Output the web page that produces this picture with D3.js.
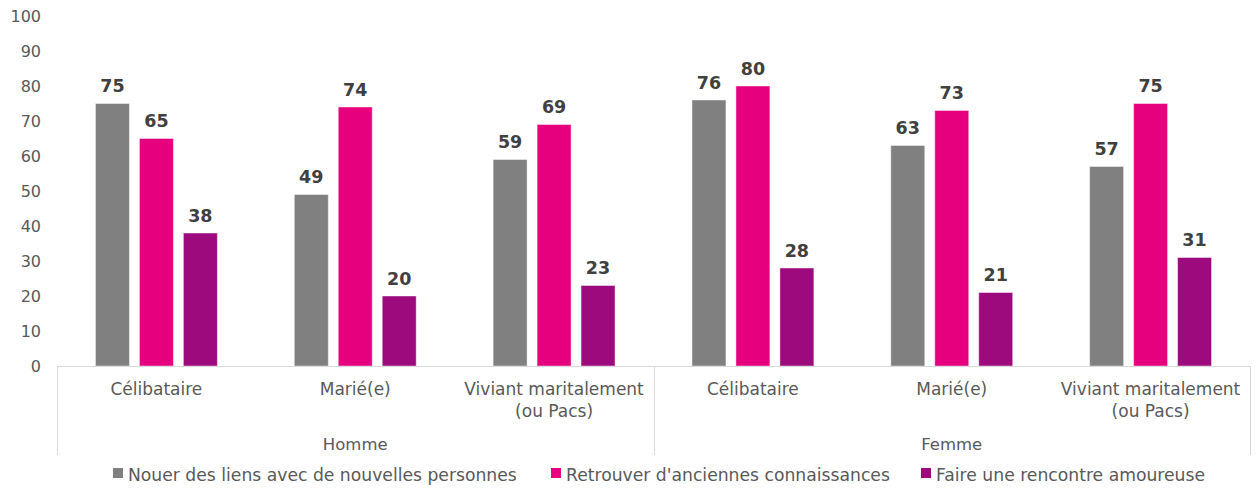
<!DOCTYPE html>
<html>
<head>
<meta charset="utf-8">
<script src="https://cdn.jsdelivr.net/npm/d3@7"></script>
<style>
  html, body { margin: 0; padding: 0; background: #fff; }
  svg { display: block; }
  svg text { font-family: "DejaVu Sans"; }
</style>
</head>
<body>
<svg id="chart" width="1258" height="491"></svg>
<script>
// Data
const groups = ["Homme", "Femme"];
const statuses = ["Célibataire", "Marié(e)", "Viviant maritalement\n(ou Pacs)"];
const seriesNames = [
  "Nouer des liens avec de nouvelles personnes",
  "Retrouver d'anciennes connaissances",
  "Faire une rencontre amoureuse"
];
// values per series, ordered Homme (3 statuses) then Femme (3 statuses)
const nouerLiens = [75, 49, 59, 76, 63, 57];
const retrouver = [65, 74, 69, 80, 73, 75];
const rencontre = [38, 20, 23, 28, 21, 31];
const yTicks = [0, 10, 20, 30, 40, 50, 60, 70, 80, 90, 100];
const colors = ["#808080", "#E6007E", "#9C0A7E"];

const FONT = "DejaVu Sans";
const TEXT = "#595959";
const seriesValues = [nouerLiens, retrouver, rencontre];
const categories = [];
groups.forEach(g => statuses.forEach(s => categories.push({ group: g, status: s, key: g + "|" + s })));

const svg = d3.select("#chart");
const plotLeft = 57, plotRight = 1250, plotTop = 16, plotBase = 366;

const y = d3.scaleLinear().domain([0, 100]).range([plotBase, plotTop]);
const x0 = d3.scaleBand().domain(categories.map(c => c.key)).range([plotLeft, plotRight]).paddingInner(0).paddingOuter(0);
const x1 = d3.scaleBand().domain(d3.range(seriesNames.length)).range([0, x0.bandwidth()])
  .paddingInner(0.227).paddingOuter(0.875);

// Y axis labels
const yAxis = d3.axisLeft(y).tickValues(yTicks).tickSize(0).tickPadding(16);
const yg = svg.append("g").attr("transform", `translate(${plotLeft},0)`).call(yAxis)
  .attr("font-family", FONT);
yg.select(".domain").remove();
yg.selectAll("text").attr("fill", TEXT).attr("font-family", FONT).style("font-size", "16px");

// Bars with value labels
categories.forEach((c, ci) => {
  const g = svg.append("g").attr("transform", `translate(${x0(c.key)},0)`);
  seriesValues.forEach((vals, si) => {
    const v = vals[ci];
    g.append("rect")
      .attr("x", x1(si))
      .attr("y", y(v))
      .attr("width", x1.bandwidth())
      .attr("height", plotBase - y(v))
      .attr("fill", colors[si])
      .attr("stroke", "rgba(255,255,255,0.45)")
      .attr("stroke-width", 1);
    g.append("text")
      .attr("x", x1(si) + x1.bandwidth() / 2)
      .attr("y", y(v) - 11.5)
      .attr("text-anchor", "middle")
      .attr("fill", "#404040")
      .attr("font-family", FONT)
      .style("font-size", "17.5px")
      .style("font-weight", "bold")
      .text(v);
  });
});

// Category axis
const axisColor = "#D9D9D9";
svg.append("line").attr("x1", plotLeft).attr("x2", plotRight).attr("y1", plotBase + 0.5).attr("y2", plotBase + 0.5)
  .attr("stroke", axisColor).attr("stroke-width", 1);
[plotLeft, x0(categories[3].key), plotRight].forEach(xv => {
  svg.append("line").attr("x1", Math.round(xv) + 0.5).attr("x2", Math.round(xv) + 0.5)
    .attr("y1", plotBase).attr("y2", 455).attr("stroke", axisColor).attr("stroke-width", 1);
});

// Status labels
categories.forEach(c => {
  const lines = c.status.split("\n");
  const cx = x0(c.key) + x0.bandwidth() / 2;
  const t = svg.append("text")
    .attr("x", cx)
    .attr("y", 395)
    .attr("text-anchor", "middle")
    .attr("fill", TEXT)
    .attr("font-family", FONT)
    .style("font-size", "17px");
  lines.forEach((ln, i) => {
    t.append("tspan").attr("x", cx).attr("dy", i === 0 ? 0 : 21.5).text(ln);
  });
});

// Group labels
groups.forEach(gname => {
  const keys = categories.filter(c => c.group === gname).map(c => c.key);
  const gx = (x0(keys[0]) + x0(keys[keys.length - 1]) + x0.bandwidth()) / 2;
  svg.append("text").attr("x", gx).attr("y", 450).attr("text-anchor", "middle")
    .attr("fill", TEXT).attr("font-family", FONT).style("font-size", "16.5px").text(gname);
});

// Legend
const legendX = [113, 551, 921];
seriesNames.forEach((name, i) => {
  svg.append("rect").attr("x", legendX[i]).attr("y", 468).attr("width", 10).attr("height", 10).attr("fill", colors[i]);
  svg.append("text").attr("x", legendX[i] + 15).attr("y", 481).attr("fill", TEXT)
    .attr("font-family", FONT).style("font-size", "17.2px").text(name);
});
</script>
</body>
</html>
